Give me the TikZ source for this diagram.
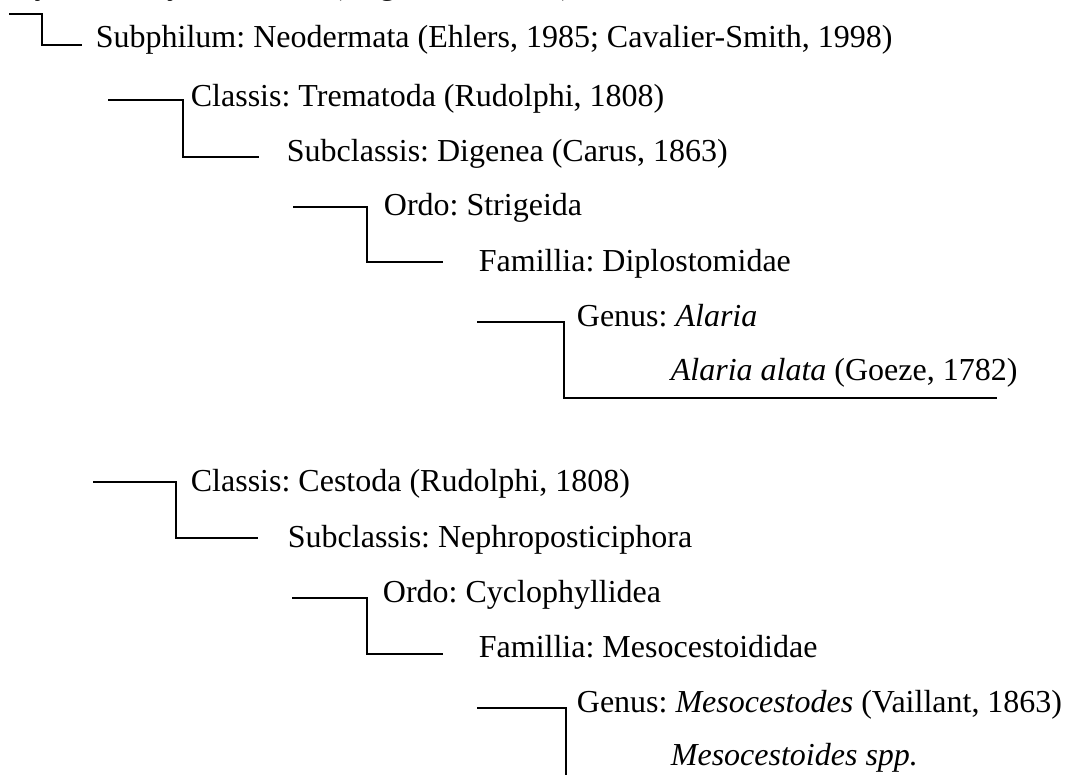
\documentclass[tikz,border=0pt]{standalone}
\usepackage{fontspec}
\setmainfont{Liberation Serif}
\frenchspacing
\begin{document}
\begin{tikzpicture}[x=1pt,y=-1pt,line width=1.8pt,
	taxon/.style={anchor=base west,inner sep=0pt,font=\fontsize{32}{38}\selectfont}]
	\useasboundingbox (0,0) rectangle (1066,775);
	%phylum
	\node[taxon] (phylum) at (0,-5) {Phylum: Platyhelminthes (Gegenbaur, 1859)};
	\node[taxon] (neodermata) at (95,48) {Subphilum: Neodermata (Ehlers, 1985; Cavalier-Smith, 1998)};
	\coordinate (k0) at (9,14);
	\coordinate (e0) at (82,45);
	\draw (k0) -- ++(33,0) |- (e0);
	%trematoda
	\node[taxon] (trematoda) at (190,107) {Classis: Trematoda (Rudolphi, 1808)};
	\node[taxon] (digenea) at (286,162) {Subclassis: Digenea (Carus, 1863)};
	\node[taxon] (strigeida) at (383,216) {Ordo: Strigeida};
	\node[taxon] (diplostomidae) at (478,272) {Famillia: Diplostomidae};
	\node[taxon] (alaria) at (576,327) {Genus: \textit{Alaria}};
	\node[taxon] (alata) at (670,381) {\textit{Alaria alata} (Goeze, 1782)};
	\coordinate (k1) at (108,100);
	\coordinate (e1) at (259,157);
	\coordinate (k2) at (293,207);
	\coordinate (e2) at (443,262);
	\coordinate (k3) at (477,322);
	\coordinate (e3) at (997,398);
	\draw (k1) -- ++(75,0) |- (e1);
	\draw (k2) -- ++(74,0) |- (e2);
	\draw (k3) -- ++(87,0) |- (e3);
	%cestoda
	\node[taxon] (cestoda) at (190,491) {Classis: Cestoda (Rudolphi, 1808)};
	\node[taxon] (nephro) at (287,547) {Subclassis: Nephroposticiphora};
	\node[taxon] (cyclo) at (382,602) {Ordo: Cyclophyllidea};
	\node[taxon] (mesocestoididae) at (478,657) {Famillia: Mesocestoididae};
	\node[taxon] (mesocestodes) at (576,712) {Genus: \textit{Mesocestodes} (Vaillant, 1863)};
	\node[taxon] (spp) at (670,765) {\textit{Mesocestoides spp.}};
	\coordinate (k4) at (93,482);
	\coordinate (e4) at (258,538);
	\coordinate (k5) at (292,598);
	\coordinate (e5) at (443,654);
	\coordinate (k6) at (477,708);
	\coordinate (e6) at (566,776);
	\draw (k4) -- ++(83,0) |- (e4);
	\draw (k5) -- ++(75,0) |- (e5);
	\draw (k6) -- ++(89,0) |- (e6);
\end{tikzpicture}
\end{document}
